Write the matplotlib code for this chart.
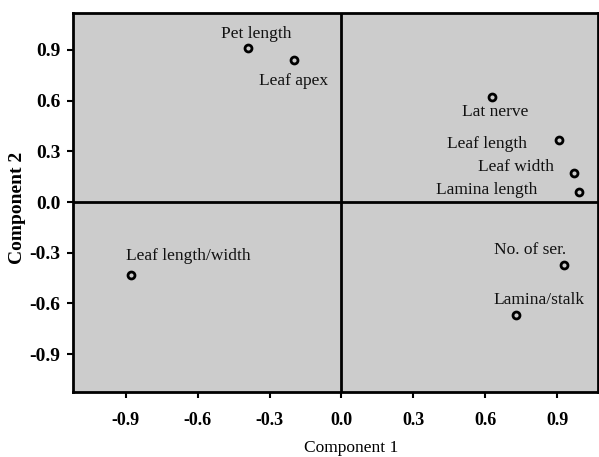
import matplotlib
matplotlib.use("Agg")
import matplotlib.pyplot as plt

# loadings
names = ["Pet length", "Leaf apex", "Lat nerve", "Leaf length", "Leaf width",
         "Lamina length", "Leaf length/width", "No. of ser.", "Lamina/stalk"]
comp1 = [-0.39, -0.20, 0.63, 0.91, 0.97, 0.99, -0.88, 0.93, 0.73]
comp2 = [0.91, 0.84, 0.62, 0.37, 0.17, 0.06, -0.43, -0.37, -0.67]
ticks = [-0.9, -0.6, -0.3, 0.0, 0.3, 0.6, 0.9]

# label offsets in pixels (dx, dy, ha)
offs = {"Pet length": (8, 14, "center"), "Leaf apex": (0, -21, "center"),
        "Lat nerve": (3, -15, "center"), "Leaf length": (-32, -4, "right"),
        "Leaf width": (-20, 6, "right"), "Lamina length": (-41, 2, "right"),
        "Leaf length/width": (-5, 19, "left"), "No. of ser.": (2, 15, "right"),
        "Lamina/stalk": (23, 15, "center")}

plt.rcParams["font.family"] = ["Liberation Serif", "DejaVu Serif"]
fig = plt.figure(figsize=(5.99, 4.57), dpi=100)
ax = fig.add_axes([0.122, 0.142, 0.876, 0.83])
ax.set_facecolor("#cccccc")
ax.axhline(0, color="black", lw=2)
ax.axvline(0, color="black", lw=2)
ax.plot(comp1, comp2, "o", ms=5, mfc="none", mec="black", mew=2, ls="none")
for n, x, y in zip(names, comp1, comp2):
    dx, dy, ha = offs[n]
    ax.annotate(n, (x, y), xytext=(dx, dy), textcoords="offset pixels",
                ha=ha, va="center", fontsize=12.5, color="#111111")

ax.set_xlim(-1.12, 1.07)
ax.set_ylim(-1.125, 1.12)
ax.set_xticks(ticks)
ax.set_yticks(ticks)
ax.set_xticklabels([f"{t:.1f}" for t in ticks], fontweight="bold", fontsize=13)
ax.set_yticklabels([f"{t:.1f}" for t in ticks], fontweight="bold", fontsize=14)
ax.tick_params(direction="out", length=4, width=1.5)
ax.tick_params(axis="x", pad=10)
ax.tick_params(axis="y", pad=5)
for s in ax.spines.values():
    s.set_linewidth(2)
ax.set_xlabel("Component 1", fontsize=12.5, va="center")
ax.xaxis.set_label_coords(0.53, -0.148)
ax.set_ylabel("Component 2", fontsize=14, fontweight="bold", va="center")
ax.yaxis.set_label_coords(-0.105, 0.485)
fig.savefig("out.png", dpi=100)
